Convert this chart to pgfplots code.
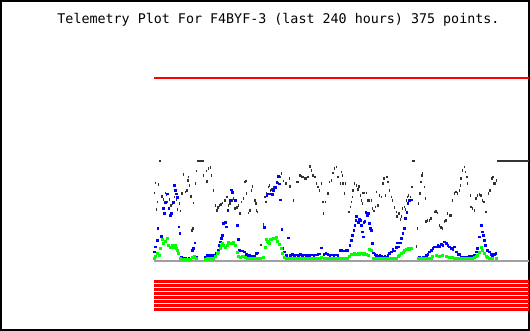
\documentclass[border=0pt]{standalone}
\usepackage{pgfplots}
\pgfplotsset{compat=1.18}
\usepackage{fontspec}
\newfontfamily\titlefont{DejaVu Sans Mono}
\definecolor{dk}{HTML}{333333}
\definecolor{bl}{HTML}{0000FF}
\definecolor{gr}{HTML}{00FF00}
\definecolor{rd}{HTML}{FF0000}
\definecolor{base}{HTML}{A0A0A0}
\begin{document}
\begin{tikzpicture}
\begin{axis}[
  width=530pt, height=330pt, scale only axis,
  xmin=0, xmax=530, ymin=0, ymax=330, y dir=reverse,
  ticks=none,
  axis line style={black, line width=2pt},
  clip=true,
]
% red upper limit line
\addplot[rd, line width=2pt] coordinates {(154,77.7) (530,77.7)};
% red stripes at bottom
\addplot[rd, line width=3pt, forget plot] coordinates {(154,281.5) (530,281.5)};
\addplot[rd, line width=3pt, forget plot] coordinates {(154,285.5) (530,285.5)};
\addplot[rd, line width=3pt, forget plot] coordinates {(154,289.5) (530,289.5)};
\addplot[rd, line width=3pt, forget plot] coordinates {(154,293.5) (530,293.5)};
\addplot[rd, line width=3pt, forget plot] coordinates {(154,297.5) (530,297.5)};
\addplot[rd, line width=3pt, forget plot] coordinates {(154,301.5) (530,301.5)};
\addplot[rd, line width=3pt, forget plot] coordinates {(154,305.5) (530,305.5)};
\addplot[rd, line width=3pt, forget plot] coordinates {(154,309.5) (530,309.5)};
% baseline
\addplot[base, line width=2pt] coordinates {(154,261) (530,261)};
% top saturation bars
\addplot[dk, line width=2pt, unbounded coords=jump] coordinates {
(159,160.7) (161,160.7) (nan,nan) (197,160.7) (204,160.7) (nan,nan)
(413,160.7) (416,160.7) (nan,nan) (498,160.7) (530,160.7)};
% black series
\addplot[dk, only marks, mark=|, mark size=1.4pt, line width=1.4pt] coordinates {
(155,182.7)(158.3,184.3)(154.3,192.7)(157.3,201.7)(156,209)(161.7,196)(163.3,199.3)(165,192.7)(166,194.3)(166.7,201.7)(169,199.3)(170.7,205)(172.3,203.3)(174,196.7)(176,199.3)(177.3,209.3)(179,203.3)(180,210.7)(181.7,193.3)(183.3,174)(185,191.7)(186.7,190)(187.7,180)(189.3,185)(188.3,176.7)(190.7,196)(193.3,202.7)(195,183.3)(196,170.7)(191.7,230)(192.7,228.3)(203.3,175)(206,170.7)(208.3,168.3)(210,167.3)(206.7,181)(211,175)(213.3,190)(215.3,205)(216.7,210)(217.7,207.3)(219.3,205)(221,204)(222.3,202.7)(225,200)(226.7,196.7)(228.3,205)(230,203.3)(231.7,200)(233.3,198.3)(235,208.3)(236.7,207.3)(238.3,205)(240,213.3)(241.7,201.7)(243.3,198.3)(245,181.7)(246,180.7)(246.7,193.3)(248.7,212.7)(250,210)(251.7,190)(252.7,186)(255,200)(256,203.3)(256.7,210)(257.3,211.7)(261,245)(263.3,224)(265,196.7)(266,201.7)(266.7,193.3)(268.3,186.7)(269.3,185)(270.7,190)(272,189.3)(273.3,187.3)(276.7,186.7)(278.3,183.3)(280,176.7)(281.7,173.3)(283.3,180.7)(286,183.3)(289.3,178.3)(290,186)(293.3,200)(296.7,181.7)(298.3,181.7)(300,175)(301.7,176)(303.3,176.7)(305,178.3)(306.7,178.3)(308.3,176.7)(310,166)(311.7,170)(313.3,175)(315,176.7)(316.7,183.3)(318.3,186.7)(320,190)(321.7,183.3)(323.3,201.7)(326,201.7)(324,213.3)(328.3,193.3)(330,181.7)(331.7,180)(333.3,172.7)(335,168.3)(336.7,166.7)(338.3,176.7)
(341.7,171.7)(342.7,175)(341,183.3)(343.3,183.3)(346,183.3)(345,193.3)(349.3,211.7)(350.7,206.7)(351.7,201.7)(352.7,196.7)(353.3,190)(355,183.3)(356.7,185)(358.3,189.3)(359.3,186)(360.7,195)(361.7,200)(362.7,203.3)(363.3,192.7)(365,192.7)(366.7,192.7)(368.3,200)(370,200)(371.7,200)(372.7,208.3)(374.3,210.7)(376,206.7)(376.7,191.7)(378.3,205)(380,195)(381.7,196.7)(383.3,183.3)(384.3,178.3)(385.7,195)(387.3,176.7)(388.3,181.7)(390,190)(391.7,196.7)(392.7,200)(395,207.3)(396.7,211.7)(397.3,216.7)(399.3,213.3)(401,219.3)(402,216.7)(403.3,208.3)(405,206.7)(406,209.3)(407.3,200)(408.3,196.7)(409.3,195)(411,196.7)(412.7,186.7)(417.3,246.7)(418,228.3)(419.3,203.3)(420.7,193.3)(421.7,181.7)(422.7,175)(423.3,173.3)(425,186.7)(426,198.3)(426.7,221.7)(428.3,220)(430,220.7)(431.7,218.3)(435,211.7)(436.7,211)(438.3,212.7)(440,225)(441.7,227.3)(443.3,228.3)(445,221.7)(446.7,220)(448.3,213.3)(450,215)(451.7,215.7)(453.3,200)(455,193.3)(456.7,191.7)(458.3,193.3)(460,190)(461,185)(461.7,178.3)(463.3,170)(465,166.7)(466,171.7)(467.7,176.7)(468.3,183.3)(471,195)(471.7,206.7)(473.3,208.3)(475,210)(476.7,198.3)(478.3,195)(480,194)(481.7,195)(483.3,200)(485,201.7)(486.7,211.7)(489.3,193.3)(490.7,190)(492.7,178.3)(494,176.7)(495,183.3)(496,183.3)(497.3,180)
};
% blue series
\addplot[bl, only marks, mark=square*, mark size=0.85pt] coordinates {
(154,251.7)(155,246.7)(156.7,240)(157.3,228.3)(161,236)(162.7,208.3)(164,213.3)(165,201.7)(166.7,193.3)(168.3,208.3)(170,215)(171,212.7)(172.7,201.7)(174,185)(175,190)(176,193.3)(176.7,196.7)(178.3,226.7)(179.3,233.3)(180.7,256.7)(181.7,258.3)(183.3,258.3)(185,258.3)(186.7,259.3)(188.3,258.3)(190,259.3)(191.7,250)(192.7,248.3)(194.3,242.7)(195.7,256.7)
(205,256.7)(206.7,255)(208.3,256)(210,255)(211.7,255)(213.3,256)(215,255)(216,252.7)(217.7,250)(219,245)(220,241.7)(221,238.3)(222,235)(223.3,222.7)(225,221.7)(226,226.7)(227.7,210)(230,200)(231.3,189.3)(232.3,191.7)(235,200)(237.3,225)(238.3,239.3)(239.3,250)(240.7,250.7)(242.7,250.7)(244.3,251.7)(246,254)(247.7,256)(249.3,255)(251,256)(252.7,256)(254.3,256)(256,253.3)(257.3,252.7)(264,227.3)(266.7,195)(268.3,193.3)(270.7,193.3)(272,194)(273.3,190)(275,186.7)(276.7,181.7)(278.3,176)(279.3,183.3)(280,199.3)(281.7,229.3)(282.7,248.3)(284.3,251.7)(286,255)(288.3,237.7)(290,255)(292,254.3)(294,255)(296,254.7)(298,255.3)(300,254.3)(302,255)(304,254.7)(306,255)(308,255.3)(310,255)(312,254.7)(314,255)(316,254.7)(318,254)(319.3,253.7)(321.7,247.7)(324,254)(326,253.3)(328,254.3)(330,255)(332,254.7)(334,255)(336,254.7)(338,255)(340,250)(342,250)(344,250.7)(346,250)(348,250)(350,245)(351.7,240)(352.7,235)(354,230)(355,225)(356,220)(356.7,216)(358.3,221.7)(359.3,219.3)(360.7,220)(361.7,225)(362.7,231.7)(363.3,236.7)(364,221.7)(365,220.7)(366,211.7)(367.3,215)(368.3,212.7)(369.3,222.7)(370.7,228.3)(371.7,230)(372.7,243.3)(373.3,252.7)(375,254)(376.7,255)(378.3,256)(380,255)(381.7,256)(383.3,257.3)(385,256)(386.7,257.3)(388.3,255)(390,253.3)(391.7,251.7)(393.3,249.3)(395,250.7)(396.7,247.3)(397.7,242.7)(399.3,246.7)(400.7,242.7)(402,238.3)(403.3,233.3)(405,228.3)(406,218.3)(407.3,211.7)(408.3,203.3)(410,200)(411.7,199.3)
(418.3,258.3)(420,257.3)(421.7,258.3)(423.3,257.3)(425,256.7)(426.7,255)(428.3,254)(430,251.7)(431.7,250)(433.3,248.3)(435,246.7)(436.7,246.7)(438.3,245)(440,246)(441.7,244)(443.3,245)(445,241.7)(446.7,243.3)(448.3,245)(450,246.7)(451.7,248.3)(453.3,249.3)(455,246.7)(456.7,251.7)(458.3,254)(460,254)(461.7,256.7)(463.3,258.3)(465,257.3)(466.7,258.3)(468.3,256.7)(470,256)(471.7,257.3)(473.3,256)(475,255)(476.7,251.7)(478.3,248.3)(480,236.7)(481.7,225)(482.7,231.7)(484,235)(485,240)(486,245)(488.3,250)(490,251.7)(491.7,254)(493.3,255)(495,254)(496.7,253.3)
};
% green series
\addplot[gr, only marks, mark=square*, mark size=1pt] coordinates {
(154,258.3)(155,256)(156.7,253.3)(158.3,255)(160,248.3)(161.7,239.3)(163.3,243.3)(165,240.7)(166.7,238.3)(168.3,245)(170,246.7)(171.7,245)(173.3,246.7)(175,245)(176,248.3)(177.3,250)(178.3,253.3)(180,258.3)(181.7,259.3)(183.3,259.3)(185,259.3)(186.7,259.3)(188.3,259.3)(190,259.3)(191.7,256.7)(192.7,257.3)(194.3,256)(196,258.3)
(205,259.3)(206.7,258.3)(208.3,259.3)(210,258.3)(211.7,259.3)(213.3,258.3)(215,256)(216.7,253.3)(218.3,251.7)(220,248.3)(221,245)(222,243.3)(223.3,245)(225,246.7)(226.7,245)(228.3,241.7)(230,242.7)(231.7,243.3)(233.3,241.7)(235,245)(236.7,251.7)(238.3,256)(240,256.7)(241.7,256)(243.3,256)(245,257.3)(246.7,258.3)(248.3,258.3)(250,258.3)(252,258.3)(254,258.3)(256.7,258.3)(260,258.3)(263.3,256.7)(265,246.7)(266,239.3)(267.3,240.7)(268.3,241.7)(269.3,242.7)(270.7,239.3)(271.7,239.3)(273.3,238.3)(275,238.3)(276,236.7)(277.7,241)(279.3,244.3)(281,248.3)(282.7,253.3)(284.3,256.7)(286,258.3)
(288,258.3)(290,258.3)(292,258.3)(294,258.3)(296,258.3)(298,258.3)(300,258.3)(302,258.3)(304,258.3)(306,258.3)(308,258.3)(310,258.3)(312,258.3)(314,258.3)(316,258.3)(318,258.3)(320,258.3)(321.7,256.7)(324,258.3)(326,258.3)(328,258.3)(330,258.3)(332,258.3)(334,258.3)(336,258.3)(338,258.3)(340,258.3)(342,258.3)(344,258.3)(346,258.3)(348,258.3)
(350,256)(351.7,254)(353.3,254)(355,253.3)(356.7,254)(358.3,253.3)(360,254)(361.7,253.3)(363.3,254)(365,253.3)(366.7,254)(368.3,255)(370,249.3)(371.7,250)(373.3,258.3)(375,258.3)(377,258.3)(379,258.3)(381,258.3)(383,258.3)(385,258.3)(387,258.3)(389,258.3)(391,258.3)(393,258.3)(395,258.3)(396.7,258.3)(398.3,256)(400,255)(401.7,253.3)(403.3,251.7)(405,250)(406.7,249.3)(408.3,248.3)(410,249.3)(411.7,248.3)
(418.3,258.3)(420,258.3)(422,258.3)(424,258.3)(426,258.3)(428,258.3)(430,258.3)(431.7,258.3)(433.3,256)(436.7,255.3)(440,256)(443.3,255.3)(446.7,256)(450,256.7)(453.3,256.7)(455,258.3)(457,258.3)(459,258.3)(461,258.3)(463,258.3)(465,258.3)(467,258.3)(469,258.3)(471,258.3)(473,258.3)(475,256.7)(476.7,256)(478.3,255)(480,251.7)(481.7,247.3)(483.3,250)(485,253.3)(486.7,256)(488.3,257.3)(490,258.3)(493.3,258.3)(496.7,258.3)
};
\node[anchor=base, font={\titlefont\fontsize{13.4}{15}\selectfont}] at (axis cs:278.5,22.3) {Telemetry Plot For F4BYF-3 (last 240 hours) 375 points.};
\end{axis}
\end{tikzpicture}
\end{document}
